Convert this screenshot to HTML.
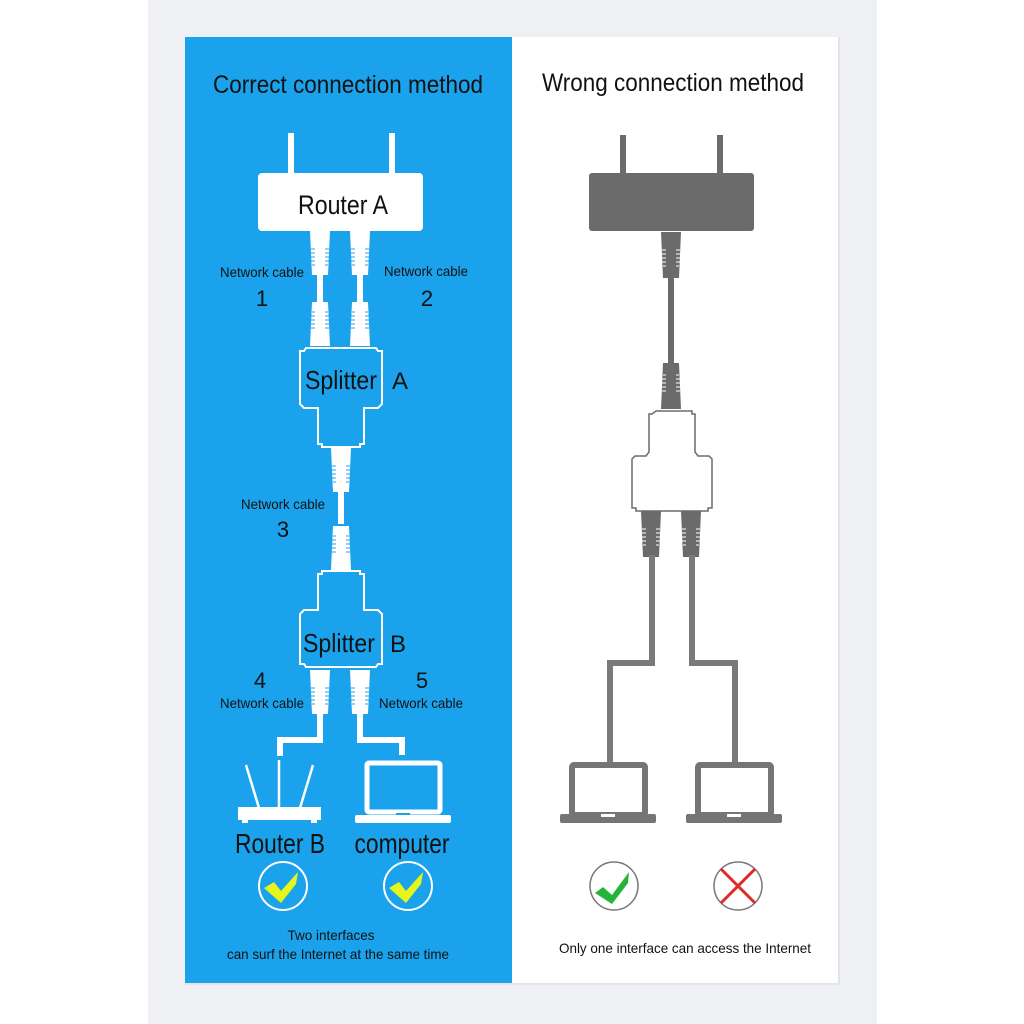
<!DOCTYPE html>
<html><head><meta charset="utf-8"><style>
html,body{margin:0;padding:0;background:#fff}
svg{display:block}
text{font-family:"Liberation Sans",sans-serif}
</style></head><body>
<svg width="1024" height="1024" viewBox="0 0 1024 1024" xmlns="http://www.w3.org/2000/svg">
<defs>
<g id="plugW">
<path d="M-10,0 H10 L8,44 H-8 Z" fill="#fff"/>
<g stroke="#27a0e6" stroke-width="1">
<line x1="-9" y1="18" x2="-5" y2="18"/><line x1="-9" y1="22" x2="-5" y2="22"/><line x1="-9" y1="26" x2="-5" y2="26"/><line x1="-9" y1="30" x2="-5" y2="30"/><line x1="-8" y1="34" x2="-5" y2="34"/>
<line x1="5" y1="18" x2="9" y2="18"/><line x1="5" y1="22" x2="9" y2="22"/><line x1="5" y1="26" x2="9" y2="26"/><line x1="5" y1="30" x2="9" y2="30"/><line x1="5" y1="34" x2="8" y2="34"/>
</g></g>
<g id="plugG">
<path d="M-10,0 H10 L8,46 H-8 Z" fill="#6b6b6b"/>
<g stroke="#fff" stroke-width="1">
<line x1="-9" y1="18" x2="-5" y2="18"/><line x1="-9" y1="22" x2="-5" y2="22"/><line x1="-9" y1="26" x2="-5" y2="26"/><line x1="-9" y1="30" x2="-5" y2="30"/><line x1="-8" y1="34" x2="-5" y2="34"/>
<line x1="5" y1="18" x2="9" y2="18"/><line x1="5" y1="22" x2="9" y2="22"/><line x1="5" y1="26" x2="9" y2="26"/><line x1="5" y1="30" x2="9" y2="30"/><line x1="5" y1="34" x2="8" y2="34"/>
</g></g>
</defs>
<rect x="148" y="0" width="729" height="1024" fill="#eef0f3"/>
<rect x="185" y="37" width="327" height="946" fill="#1aa3ec"/>
<rect x="512" y="37" width="326" height="946" fill="#fff"/>
<rect x="838" y="37" width="2" height="946" fill="#e2e4e7"/>
<rect x="185" y="983" width="655" height="2" fill="#e2e4e7"/>

<!-- LEFT -->
<text x="348" y="93" font-size="25" text-anchor="middle" textLength="270" lengthAdjust="spacingAndGlyphs" fill="#111">Correct connection method</text>
<rect x="288" y="133" width="6" height="45" fill="#fff"/><rect x="389" y="133" width="6" height="45" fill="#fff"/>
<rect x="258" y="173" width="165" height="58" rx="4" fill="#fff"/>
<text x="343" y="214" font-size="27" text-anchor="middle" textLength="90" lengthAdjust="spacingAndGlyphs" fill="#111">Router A</text>
<use href="#plugW" x="320" y="231"/><use href="#plugW" x="360" y="231"/>
<rect x="317" y="274" width="6" height="28" fill="#fff"/><rect x="357" y="274" width="6" height="28" fill="#fff"/>
<use href="#plugW" transform="translate(320,346) scale(1,-1)"/><use href="#plugW" transform="translate(360,346) scale(1,-1)"/>
<text x="262" y="277" font-size="14" text-anchor="middle" textLength="84" lengthAdjust="spacingAndGlyphs" fill="#111">Network cable</text>
<text x="262" y="306" font-size="22" text-anchor="middle" fill="#111">1</text>
<text x="426" y="276" font-size="14" text-anchor="middle" textLength="84" lengthAdjust="spacingAndGlyphs" fill="#111">Network cable</text>
<text x="427" y="306" font-size="22" text-anchor="middle" fill="#111">2</text>
<path d="M306,348 H376 L378,351 H382 V404 L378,408 H364 V444 H360 V447 H322 V444 H318 V408 H304 L300,404 V351 H304 Z" fill="none" stroke="#fff" stroke-width="2"/>
<text x="341" y="389" font-size="26" text-anchor="middle" textLength="72" lengthAdjust="spacingAndGlyphs" fill="#111">Splitter</text>
<text x="400" y="389" font-size="24" text-anchor="middle" fill="#111">A</text>
<use href="#plugW" x="341" y="448"/>
<rect x="338" y="490" width="6" height="34" fill="#fff"/>
<use href="#plugW" transform="translate(341,570) scale(1,-1)"/>
<text x="283" y="509" font-size="14" text-anchor="middle" textLength="84" lengthAdjust="spacingAndGlyphs" fill="#111">Network cable</text>
<text x="283" y="537" font-size="22" text-anchor="middle" fill="#111">3</text>
<path d="M322,571 H360 V574 H364 V610 H378 L382,614 V664 H378 L376,667 H306 L304,664 H300 V614 L304,610 H318 V574 H322 Z" fill="none" stroke="#fff" stroke-width="2"/>
<text x="339" y="652" font-size="26" text-anchor="middle" textLength="72" lengthAdjust="spacingAndGlyphs" fill="#111">Splitter</text>
<text x="398" y="652" font-size="24" text-anchor="middle" fill="#111">B</text>
<use href="#plugW" x="320" y="670"/><use href="#plugW" x="360" y="670"/>
<path d="M320,712 V740 H280 V756" fill="none" stroke="#fff" stroke-width="6"/>
<path d="M360,712 V740 H402 V755" fill="none" stroke="#fff" stroke-width="6"/>
<text x="260" y="688" font-size="22" text-anchor="middle" fill="#111">4</text>
<text x="262" y="708" font-size="14" text-anchor="middle" textLength="84" lengthAdjust="spacingAndGlyphs" fill="#111">Network cable</text>
<text x="422" y="688" font-size="22" text-anchor="middle" fill="#111">5</text>
<text x="421" y="708" font-size="14" text-anchor="middle" textLength="84" lengthAdjust="spacingAndGlyphs" fill="#111">Network cable</text>
<!-- router B -->
<g stroke="#fff" stroke-width="2.5"><line x1="246" y1="765" x2="259" y2="808"/><line x1="279" y1="760" x2="279" y2="808"/><line x1="313" y1="765" x2="300" y2="808"/></g>
<rect x="238" y="807" width="83" height="13" fill="#fff"/>
<rect x="242" y="819" width="6" height="4" fill="#fff"/><rect x="311" y="819" width="6" height="4" fill="#fff"/>
<!-- laptop -->
<rect x="367" y="763" width="73" height="49" rx="2" fill="none" stroke="#fff" stroke-width="5"/>
<rect x="355" y="815" width="96" height="8" rx="2" fill="#fff"/>
<rect x="396" y="813" width="14" height="2" fill="#1aa3ec"/>
<text x="280" y="853" font-size="28" text-anchor="middle" textLength="90" lengthAdjust="spacingAndGlyphs" fill="#111">Router B</text>
<text x="402" y="853" font-size="28" text-anchor="middle" textLength="95" lengthAdjust="spacingAndGlyphs" fill="#111">computer</text>
<circle cx="283" cy="886" r="24" fill="none" stroke="#fff" stroke-width="2"/>
<circle cx="408" cy="886" r="24" fill="none" stroke="#fff" stroke-width="2"/>
<path d="M264,888 L274,882 L281,891 L298,872 L296,884 L281,903 Z" fill="#e6f51a"/>
<path d="M389,888 L399,882 L406,891 L423,872 L421,884 L406,903 Z" fill="#e6f51a"/>
<text x="331" y="940" font-size="14" text-anchor="middle" textLength="87" lengthAdjust="spacingAndGlyphs" fill="#111">Two interfaces</text>
<text x="338" y="959" font-size="14" text-anchor="middle" textLength="222" lengthAdjust="spacingAndGlyphs" fill="#111">can surf the Internet at the same time</text>

<!-- RIGHT -->
<text x="673" y="91" font-size="25" text-anchor="middle" textLength="262" lengthAdjust="spacingAndGlyphs" fill="#111">Wrong connection method</text>
<rect x="620" y="135" width="6" height="42" fill="#6b6b6b"/><rect x="717" y="135" width="6" height="42" fill="#6b6b6b"/>
<rect x="589" y="173" width="165" height="58" rx="3" fill="#6b6b6b"/>
<use href="#plugG" x="671" y="232"/>
<rect x="668" y="276" width="6" height="90" fill="#6b6b6b"/>
<use href="#plugG" transform="translate(671,409) scale(1,-1)"/>
<path d="M656,411 H692 V414 H695 V452 L698,456 H709 L712,459 V508 H708 V511 H636 V508 H632 V459 L635,456 H646 L649,452 V414 H652 Z" fill="#fff" stroke="#6b6b6b" stroke-width="1.5"/>
<use href="#plugG" x="651" y="511"/><use href="#plugG" x="691" y="511"/>
<path d="M652,555 V663 H610 V765" fill="none" stroke="#7a7a7a" stroke-width="6"/>
<path d="M692,555 V663 H735 V765" fill="none" stroke="#7a7a7a" stroke-width="6"/>
<rect x="572" y="765" width="73" height="50" rx="2" fill="none" stroke="#757575" stroke-width="6"/>
<rect x="560" y="814" width="96" height="9" rx="2" fill="#757575"/>
<rect x="601" y="814" width="14" height="3" fill="#fff"/>
<rect x="698" y="765" width="73" height="50" rx="2" fill="none" stroke="#757575" stroke-width="6"/>
<rect x="686" y="814" width="96" height="9" rx="2" fill="#757575"/>
<rect x="727" y="814" width="14" height="3" fill="#fff"/>
<circle cx="614" cy="886" r="24" fill="none" stroke="#777" stroke-width="1.5"/>
<path d="M595,893 L603,887 L612,895 L629,872 L628,883 L612,904 Z" fill="#22b53a"/>
<circle cx="738" cy="886" r="24" fill="none" stroke="#777" stroke-width="1.5"/>
<g stroke="#e02a2a" stroke-width="3"><line x1="721" y1="869" x2="755" y2="903"/><line x1="755" y1="869" x2="721" y2="903"/></g>
<text x="685" y="953" font-size="14" text-anchor="middle" textLength="252" lengthAdjust="spacingAndGlyphs" fill="#111">Only one interface can access the Internet</text>
</svg>
</body></html>
